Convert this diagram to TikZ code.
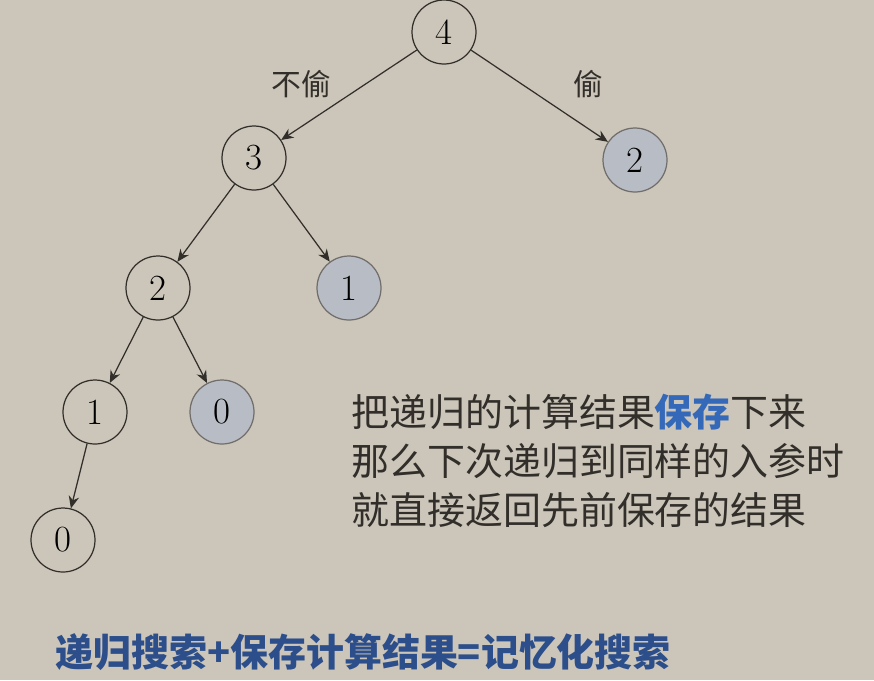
\documentclass[tikz,border=0pt]{standalone}
\usepackage{fontspec}
\newfontfamily\cjk{Noto Sans CJK SC}
\usetikzlibrary{arrows.meta, positioning}

\definecolor{paper}{RGB}{204,198,186}
\definecolor{memo}{RGB}{184,189,197}
\definecolor{inkline}{RGB}{50,46,42}
\definecolor{keyblue}{RGB}{52,104,184}
\definecolor{sumblue}{RGB}{44,78,138}

\begin{document}
\begin{tikzpicture}[
  x=0.02cm, y=-0.02cm,
  state/.style={circle, draw=inkline, line width=0.7pt, minimum size=1.28cm, inner sep=0pt, font=\fontsize{21}{21}\selectfont},
  cached/.style={state, draw=inkline!70, fill=memo},
  choice/.style={font=\cjk\fontsize{17}{17}\selectfont, text=inkline},
  arrow/.style={-{Stealth[length=7pt,width=6pt]}, line width=0.7pt, draw=inkline}
]

\fill[paper] (0,0) rectangle (874,680);
\useasboundingbox (0,0) rectangle (874,680);

% ------------------------------------------------------------
% Recursion tree
% ------------------------------------------------------------

\node[state] (n4) at (444,32) {4};
\node[state] (n3) at (254,158) {3};
\node[cached] (c2) at (635,160) {2};

\node[state] (n2) at (158,288) {2};
\node[cached] (c1) at (349,288) {1};

\node[state] (n1) at (95,412) {1};
\node[cached] (c0) at (222,412) {0};

\node[state] (n0) at (63,540) {0};

\draw[arrow] (n4) -- (n3);
\draw[arrow] (n4) -- (c2);
\draw[arrow] (n3) -- (n2);
\draw[arrow] (n3) -- (c1);
\draw[arrow] (n2) -- (n1);
\draw[arrow] (n2) -- (c0);
\draw[arrow] (n1) -- (n0);

\node[choice] (skip) at (301,84) {不偷};
\node[choice] (take) at (588,84) {偷};

% ------------------------------------------------------------
% Notes
% ------------------------------------------------------------

\node[anchor=west, align=left, inner sep=0pt, text=inkline,
      font=\cjk\fontsize{21.6}{27.8}\selectfont] (note) at (351,461) {
把递归的计算结果{\bfseries\color{keyblue}保存}下来\\
那么下次递归到同样的入参时\\
就直接返回先前保存的结果
};

\node[anchor=west, inner sep=0pt, text=sumblue,
      font=\cjk\bfseries\fontsize{21.6}{21.6}\selectfont] (summary) at (55,652) {递归搜索+保存计算结果=记忆化搜索};

\end{tikzpicture}
\end{document}
